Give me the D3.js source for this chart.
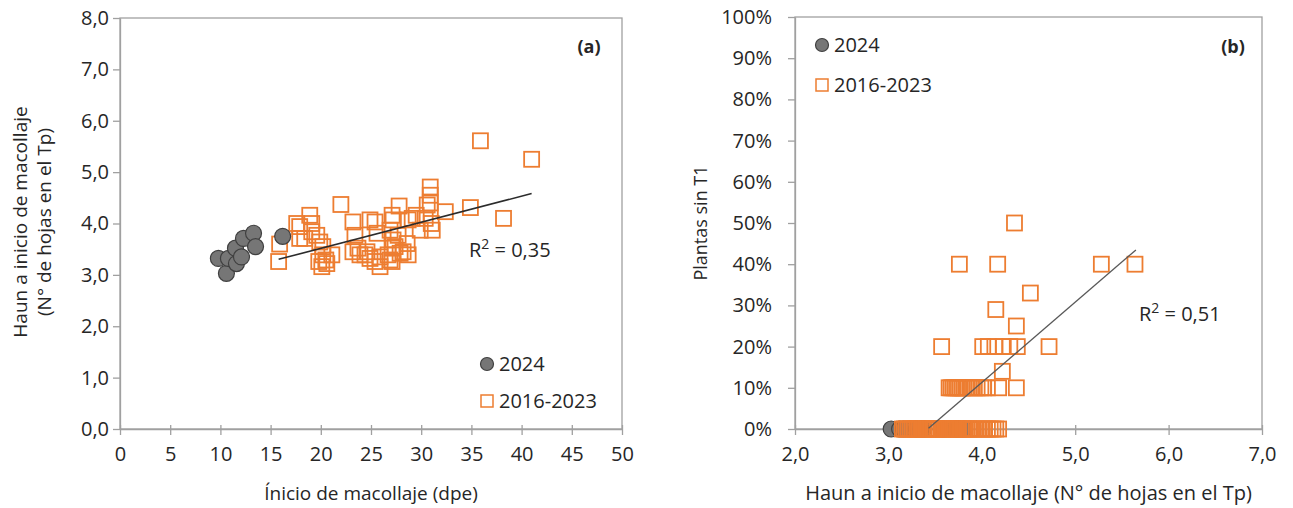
<!DOCTYPE html>
<html>
<head>
<meta charset="utf-8">
<script src="https://cdn.jsdelivr.net/npm/d3@7"></script>
<style>
  body { margin: 0; background: #fff; }
  text { font-family: "Open Sans", sans-serif; fill: #262626; }
</style>
</head>
<body>
<div id="chart"></div>
<script>
// ---- data (a): inicio de macollaje (dpe) vs Haun
const a2024x = [9.8, 10.6, 10.8, 11.5, 11.6, 12.1, 12.3, 13.3, 13.5, 16.2];
const a2024y = [3.32, 3.03, 3.32, 3.52, 3.22, 3.35, 3.71, 3.81, 3.55, 3.75];

const aHistX = [15.8, 15.9, 17.6, 17.9, 17.9, 18.4, 18.9, 19.1, 19.1, 19.6, 19.9, 19.8, 20.2, 20.2, 20.5, 20.6,
  20.1, 21.1, 22.0, 23.2, 23.4, 23.7, 23.2, 23.9, 24.6, 24.4, 24.9, 25.4, 25.6, 24.9, 25.4, 25.9, 25.9, 26.7,
  26.9, 26.9, 27.1, 27.2, 27.8, 27.7, 27.2, 27.1, 27.4, 27.9, 27.1, 28.2, 28.6, 28.7, 28.7, 29.1, 29.5, 29.9,
  30.4, 30.6, 30.9, 30.9, 30.9, 31.1, 31.0, 32.4, 34.9, 35.9, 38.2, 41.0];
const aHistY = [3.26, 3.60, 4.00, 3.94, 3.71, 3.71, 4.16, 4.00, 3.84, 3.77, 3.64, 3.26, 3.55, 3.39, 3.29, 3.22,
  3.16, 3.39, 4.37, 4.03, 3.77, 3.52, 3.45, 3.39, 3.45, 3.39, 4.07, 4.03, 3.81, 3.32, 3.26, 3.35, 3.16, 3.39,
  3.29, 3.87, 4.16, 4.07, 4.34, 3.77, 3.68, 3.52, 3.55, 3.42, 3.26, 3.45, 3.61, 4.07, 3.39, 4.10, 4.16, 3.87,
  4.10, 4.36, 4.71, 4.55, 4.40, 3.87, 4.00, 4.23, 4.31, 5.61, 4.10, 5.25];

const aTrendX = [15.8, 41.0];
const aSlope = 0.0508, aIntercept = 2.50, aR2 = "0,35";
const aXTicks = [0, 5, 10, 15, 20, 25, 30, 35, 40, 45, 50];
const aYTicks = [0, 1, 2, 3, 4, 5, 6, 7, 8];

// ---- data (b): Haun vs plantas sin T1
const b2024x = [3.03, 3.12, 3.16, 3.30, 3.38, 3.59, 3.72, 3.75, 3.81, 3.35];
const b2024y = [0, 0, 0, 0, 0, 0, 0, 0, 0, 0];

const bHistX = [3.15, 3.17, 3.19, 3.21, 3.23, 3.25, 3.27, 3.29, 3.31, 3.33, 3.36, 3.38, 3.40, 3.42, 3.44, 3.46,
  3.48, 3.50, 3.52, 3.54, 3.57, 3.59, 3.61, 3.63, 3.65, 3.67, 3.69, 3.71, 3.73, 3.75, 3.78, 3.80, 3.82, 3.84,
  3.86, 3.88, 3.91, 3.94, 3.97, 4.00, 4.03, 4.06, 4.09, 4.12, 4.15, 4.18,
  3.65, 3.67, 3.69, 3.71, 3.73, 3.75, 3.77, 3.79, 3.81, 3.84, 3.88, 3.92, 3.95, 3.99, 4.02, 4.06, 4.18, 4.37,
  4.22,
  3.57, 4.01, 4.07, 4.14, 4.23, 4.30, 4.38, 4.72,
  4.37, 4.15, 4.52,
  3.76, 4.17, 5.28, 5.64,
  4.35];
const bHistY = [0, 0, 0, 0, 0, 0, 0, 0, 0, 0, 0, 0, 0, 0, 0, 0,
  0, 0, 0, 0, 0, 0, 0, 0, 0, 0, 0, 0, 0, 0, 0, 0, 0, 0,
  0, 0, 0, 0, 0, 0, 0, 0, 0, 0, 0, 0,
  0.10, 0.10, 0.10, 0.10, 0.10, 0.10, 0.10, 0.10, 0.10, 0.10, 0.10, 0.10, 0.10, 0.10, 0.10, 0.10, 0.10, 0.10,
  0.14,
  0.20, 0.20, 0.20, 0.20, 0.20, 0.20, 0.20, 0.20,
  0.25, 0.29, 0.33,
  0.40, 0.40, 0.40, 0.40,
  0.50];

const bTrendX = [3.43, 5.65];
const bSlope = 0.195, bIntercept = -0.667, bR2 = "0,51";
const bXTicks = [2, 3, 4, 5, 6, 7];
const bYTicks = [0, 0.1, 0.2, 0.3, 0.4, 0.5, 0.6, 0.7, 0.8, 0.9, 1.0];

const series = ["2024", "2016-2023"];

const orange = "#ED7D31", grayFill = "#767676", grayStroke = "#404040", axisColor = "#a0a0a0";
const comma = d3.format(".1f");

const svg = d3.select("#chart").append("svg")
  .attr("width", 1293).attr("height", 508);

function panel(cfg) {
  const x = d3.scaleLinear().domain(cfg.xDomain).range(cfg.xRange);
  const y = d3.scaleLinear().domain(cfg.yDomain).range(cfg.yRange);
  const g = svg.append("g");

  // plot area border
  g.append("rect")
    .attr("x", cfg.xRange[0]).attr("y", cfg.yRange[1])
    .attr("width", cfg.xRange[1] - cfg.xRange[0])
    .attr("height", cfg.yRange[0] - cfg.yRange[1])
    .attr("fill", "none").attr("stroke", axisColor).attr("stroke-width", 1.3);

  const xAxis = g.append("g")
    .attr("transform", "translate(0," + cfg.yRange[0] + ")")
    .call(d3.axisBottom(x).tickValues(cfg.xTicks).tickSize(6).tickSizeOuter(0).tickPadding(12).tickFormat(cfg.xFmt));
  xAxis.selectAll("line").attr("y1", -4);
  const yAxis = g.append("g")
    .attr("transform", "translate(" + cfg.xRange[0] + ",0)")
    .call(d3.axisLeft(y).tickValues(cfg.yTicks).tickSize(7).tickSizeOuter(0).tickPadding(cfg.yPad).tickFormat(cfg.yFmt));
  [xAxis, yAxis].forEach(ax => {
    ax.select(".domain").attr("stroke", axisColor).attr("stroke-width", 1.3);
    ax.selectAll("line").attr("stroke", axisColor).attr("stroke-width", 1.3);
    ax.selectAll("text").style("font-family", "Open Sans").style("font-size", "20px").attr("fill", "#262626");
  });

  const drawCircles = () => g.append("g").selectAll("circle")
    .data(cfg.cx.map((v, i) => [v, cfg.cy[i]]))
    .join("circle")
    .attr("cx", d => x(d[0])).attr("cy", d => y(d[1])).attr("r", 8)
    .attr("fill", grayFill).attr("stroke", grayStroke).attr("stroke-width", 1.2);
  const drawSquares = () => g.append("g").selectAll("rect")
    .data(cfg.sx.map((v, i) => [v, cfg.sy[i]]))
    .join("rect")
    .attr("x", d => x(d[0]) - 7.5).attr("y", d => y(d[1]) - 7.5)
    .attr("width", 15).attr("height", 15)
    .attr("fill", "none").attr("stroke", orange).attr("stroke-width", 1.8);

  if (cfg.circlesOnTop) { drawSquares(); drawCircles(); }
  else { drawCircles(); drawSquares(); }

  // trend line
  g.append("line")
    .attr("x1", x(cfg.trendX[0])).attr("y1", y(cfg.slope * cfg.trendX[0] + cfg.intercept))
    .attr("x2", x(cfg.trendX[1])).attr("y2", y(cfg.slope * cfg.trendX[1] + cfg.intercept))
    .attr("stroke", cfg.trendColor).attr("stroke-width", cfg.trendWidth);

  // R2 label
  const r2 = g.append("text")
    .attr("x", cfg.r2Pos[0]).attr("y", cfg.r2Pos[1])
    .style("font-size", "20px");
  r2.append("tspan").text("R");
  r2.append("tspan").attr("dy", -8).style("font-size", "14px").text("2");
  r2.append("tspan").attr("dy", 8).text(" = " + cfg.r2);

  // panel letter
  g.append("text")
    .attr("x", cfg.letterPos[0]).attr("y", cfg.letterPos[1])
    .attr("text-anchor", "middle")
    .style("font-size", "18px").style("font-weight", "bold")
    .text(cfg.letter);

  // legend
  const lg = g.append("g").attr("transform", "translate(" + cfg.legendPos[0] + "," + cfg.legendPos[1] + ")");
  lg.append("circle").attr("cx", 0).attr("cy", 0).attr("r", 6.5)
    .attr("fill", grayFill).attr("stroke", grayStroke).attr("stroke-width", 1.2);
  lg.append("rect").attr("x", -6).attr("y", cfg.legendGap - 6).attr("width", 12).attr("height", 12)
    .attr("fill", "none").attr("stroke", orange).attr("stroke-width", 1.5);
  lg.selectAll("text.leg").data(series).join("text")
    .attr("class", "leg")
    .attr("x", 12).attr("y", (d, i) => i * cfg.legendGap + 7)
    .style("font-size", "20px")
    .text(d => d);

  // axis titles
  g.append("text")
    .attr("x", (cfg.xRange[0] + cfg.xRange[1]) / 2).attr("y", 500)
    .attr("text-anchor", "middle").style("font-size", cfg.xTitleSize)
    .text(cfg.xTitle);
  const yt = g.append("text")
    .attr("transform", "translate(" + cfg.yTitleX + "," + cfg.yTitleY + ") rotate(-90)")
    .attr("text-anchor", "middle").style("font-size", cfg.yTitleSize);
  cfg.yTitle.forEach((line, i) => {
    yt.append("tspan").attr("x", 0).attr("dy", i === 0 ? 0 : 24).text(line);
  });
}

panel({
  xDomain: [0, 50], xRange: [120, 622],
  yDomain: [0, 8], yRange: [429, 18],
  xTicks: aXTicks, yTicks: aYTicks,
  xFmt: d3.format("d"), yFmt: d => comma(d).replace(".", ","),
  yPad: 4,
  cx: a2024x, cy: a2024y, sx: aHistX, sy: aHistY, circlesOnTop: true,
  trendX: aTrendX, slope: aSlope, intercept: aIntercept,
  trendColor: "#2b2b2b", trendWidth: 1.6,
  r2: aR2, r2Pos: [469, 257],
  letter: "(a)", letterPos: [589, 53],
  legendPos: [487, 364], legendGap: 37,
  xTitle: "Ínicio de macollaje (dpe)", xTitleSize: "19px",
  yTitle: ["Haun a inicio de macollaje", "(N° de hojas en el Tp)"], yTitleSize: "19px",
  yTitleX: 27, yTitleY: 222
});

panel({
  xDomain: [2, 7], xRange: [795, 1262],
  yDomain: [0, 1], yRange: [429, 17],
  xTicks: bXTicks, yTicks: bYTicks,
  xFmt: d => comma(d).replace(".", ","), yFmt: d3.format(".0%"),
  yPad: 16,
  cx: b2024x, cy: b2024y, sx: bHistX, sy: bHistY, circlesOnTop: false,
  trendX: bTrendX, slope: bSlope, intercept: bIntercept,
  trendColor: "#595959", trendWidth: 1.3,
  r2: bR2, r2Pos: [1139, 321],
  letter: "(b)", letterPos: [1233, 53],
  legendPos: [822, 45], legendGap: 40,
  xTitle: "Haun a inicio de macollaje (N° de hojas en el Tp)", xTitleSize: "20px",
  yTitle: ["Plantas sin T1"], yTitleSize: "18px",
  yTitleX: 707, yTitleY: 223
});
</script>
</body>
</html>
